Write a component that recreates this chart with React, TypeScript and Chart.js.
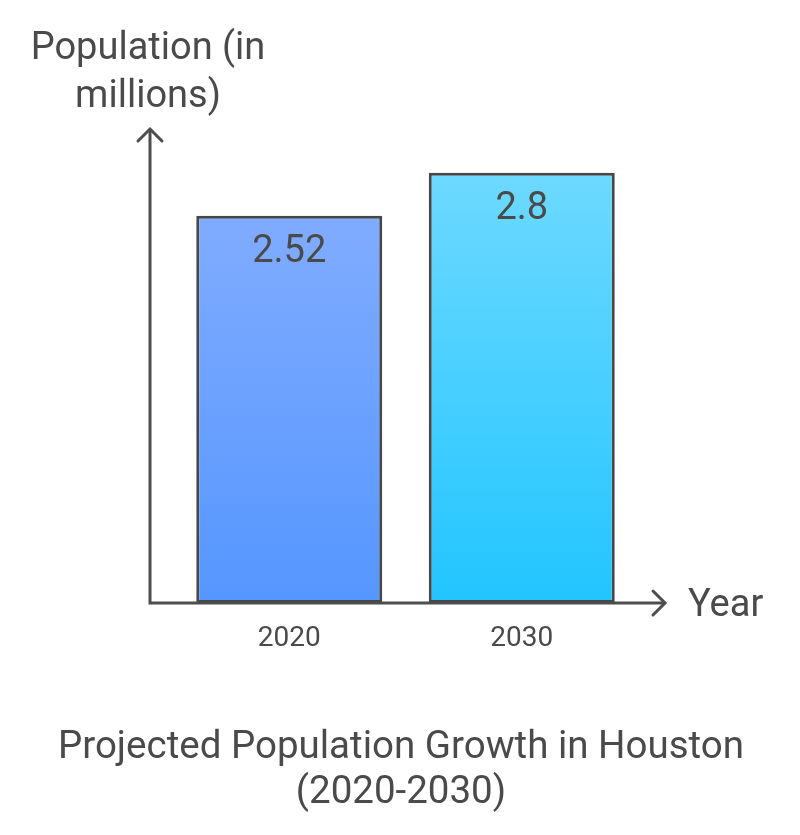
import React, { useEffect, useRef } from "react";
import { Chart, registerables } from "chart.js";

Chart.register(...registerables);

const categories = ["2020", "2030"];
const values = [2.52, 2.8];
const valueLabels = ["2.52", "2.8"];
const topColors = ["#80acff", "#6dd9ff"];
const bottomColors = ["#5596ff", "#22c5ff"];
const yTitleLines = ["Population (in", "millions)"];
const xTitle = "Year";
const titleLines = ["Projected Population Growth in Houston", "(2020-2030)"];

const TEXT = "#4a4a4a";
const LINE = "#4d4d4d";
const FONT = "Roboto, 'Noto Sans', sans-serif";

const overlay = {
  id: "overlay",
  afterDatasetsDraw(chart: any) {
    const { ctx, chartArea } = chart;
    const meta = chart.getDatasetMeta(0);
    ctx.save();
    // value labels
    ctx.fillStyle = TEXT;
    ctx.font = `38px ${FONT}`;
    ctx.textAlign = "center";
    ctx.textBaseline = "middle";
    meta.data.forEach((bar: any, i: number) => {
      ctx.fillText(valueLabels[i], bar.x, bar.y + 37);
    });
    // tick labels
    ctx.font = `28px ${FONT}`;
    meta.data.forEach((bar: any, i: number) => {
      ctx.fillText(categories[i], bar.x, chartArea.bottom + 36);
    });
    // axes
    const x0 = chartArea.left - 23;
    const y0 = chartArea.bottom;
    const yTop = chartArea.top - 13;
    const xEnd = chartArea.right + 27;
    ctx.strokeStyle = LINE;
    ctx.lineWidth = 3;
    ctx.lineCap = "butt";
    ctx.lineJoin = "miter";
    ctx.beginPath();
    ctx.moveTo(x0, yTop);
    ctx.lineTo(x0, y0);
    ctx.lineTo(xEnd, y0);
    ctx.stroke();
    ctx.lineCap = "round";
    ctx.beginPath();
    ctx.moveTo(x0 - 12, yTop + 12);
    ctx.lineTo(x0, yTop);
    ctx.lineTo(x0 + 12, yTop + 12);
    ctx.moveTo(xEnd - 12, y0 - 12);
    ctx.lineTo(xEnd, y0);
    ctx.lineTo(xEnd - 12, y0 + 12);
    ctx.stroke();
    // axis titles
    ctx.font = `38px ${FONT}`;
    ctx.textAlign = "center";
    ctx.fillText(yTitleLines[0], x0 - 2, 49);
    ctx.fillText(yTitleLines[1], x0 - 2, 97);
    ctx.textAlign = "left";
    ctx.fillText(xTitle, xEnd + 23, y0 + 3);
    // chart title
    ctx.textAlign = "center";
    ctx.font = `38.5px ${FONT}`;
    ctx.fillText(titleLines[0], 401, 748);
    ctx.fillText(titleLines[1], 401, 793);
    ctx.restore();
  },
};

export default function App() {
  const ref = useRef<HTMLCanvasElement>(null);
  useEffect(() => {
    if (!ref.current) return;
    const chart = new Chart(ref.current, {
      type: "bar",
      data: {
        labels: categories,
        datasets: [
          {
            data: values,
            backgroundColor: (c: any) => {
              const ch = c.chart;
              const ys = ch.scales.y;
              if (!ch.chartArea || !ys) return bottomColors[c.dataIndex];
              const top = ys.getPixelForValue(values[c.dataIndex]);
              const bot = ys.getPixelForValue(0);
              const g = ch.ctx.createLinearGradient(0, top, 0, bot);
              g.addColorStop(0, topColors[c.dataIndex]);
              g.addColorStop(1, bottomColors[c.dataIndex]);
              return g;
            },
            borderColor: "#474747",
            borderWidth: 3,
            borderSkipped: false,
            barPercentage: 0.8,
            categoryPercentage: 1,
          },
        ],
      },
      options: {
        responsive: false,
        animation: false,
        layout: { padding: { left: 173, right: 162, top: 142, bottom: 232 } },
        plugins: { legend: { display: false }, tooltip: { enabled: false }, title: { display: false } },
        scales: {
          x: { display: false, offset: true },
          y: { display: false, min: 0, max: 3 },
        },
      },
      plugins: [overlay],
    });
    return () => chart.destroy();
  }, []);
  return (
    <div style={{ position: "absolute", left: 0, top: 0, width: 800, height: 835, background: "#fff" }}>
      <canvas ref={ref} width={800} height={835} style={{ width: 800, height: 835 }} />
    </div>
  );
}
